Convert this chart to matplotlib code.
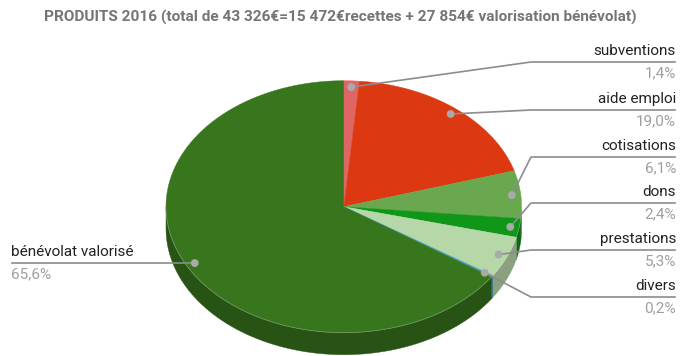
import numpy as np
import matplotlib
matplotlib.use("Agg")
import matplotlib.pyplot as plt
from matplotlib.patches import Polygon, Circle

# data
labels = ["subventions", "aide emploi", "cotisations", "dons", "prestations", "divers", "bénévolat valorisé"]
values = [1.4, 19.0, 6.1, 2.4, 5.3, 0.2, 65.6]
pct_text = ["1,4%", "19,0%", "6,1%", "2,4%", "5,3%", "0,2%", "65,6%"]
colors = ["#e06666", "#dc3912", "#6aa84f", "#109618", "#b6d7a8", "#3fa0c8", "#38761d"]
title = "PRODUITS 2016 (total de 43 326€=15 472€recettes + 27 854€ valorisation bénévolat)"

plt.rcParams['font.family'] = ['Roboto', 'DejaVu Sans']

W, H = 681, 356
fig = plt.figure(figsize=(W / 100, H / 100), dpi=100)
ax = fig.add_axes([0, 0, 1, 1])
ax.set_xlim(0, W)
ax.set_ylim(H, 0)
ax.axis("off")

# pie geometry (pixels)
cx, cy = 343.8, 206.7
rx, ry = 177.8, 126.0
depth = 22


def pt(theta, f=1.0):
    # theta in degrees, clockwise from 12 o'clock
    t = np.radians(theta)
    return cx + f * rx * np.sin(t), cy - f * ry * np.cos(t)


def darker(c, k=0.7):
    r, g, b = matplotlib.colors.to_rgb(c)
    return (r * k, g * k, b * k)


total = sum(values)
bounds = np.concatenate([[0], np.cumsum(values) / total * 360])

# side faces (front half only)
for i, c in enumerate(colors):
    a1, a2 = max(bounds[i], 90), min(bounds[i + 1], 270)
    if a2 <= a1:
        continue
    th = np.linspace(a1, a2, 80)
    xs, ys = pt(th)
    poly = np.column_stack([np.concatenate([xs, xs[::-1]]),
                            np.concatenate([ys, ys[::-1] + depth])])
    sc = darker(c)
    if i == 4:
        sc = "#8aa07f"
    ax.add_patch(Polygon(poly, closed=True, fc=sc, ec=sc, lw=0.3))

# top face
for i, c in enumerate(colors):
    th = np.linspace(bounds[i], bounds[i + 1], max(3, int(values[i] * 4)))
    xs, ys = pt(th)
    poly = np.column_stack([np.concatenate([[cx], xs]), np.concatenate([[cy], ys])])
    ax.add_patch(Polygon(poly, closed=True, fc=c, ec=c, lw=0.3))

# rim highlight
th = np.linspace(90, 270, 200)
xs, ys = pt(th)
ax.plot(xs, ys, color="white", lw=0.6, alpha=0.25)

# labels
line_c = "#8c8c8c"
fs = 11
right_x0, right_x1 = 531, 675
line_ys = [62, 110, 157, 203, 250, 297]
for i in range(6):
    mid = (bounds[i] + bounds[i + 1]) / 2
    dx, dy = pt(mid, 0.95)
    ly = line_ys[i]
    ax.plot([dx, right_x0, right_x1], [dy, ly, ly], color=line_c, lw=1.2, zorder=3)
    ax.add_patch(Circle((dx, dy), 3.2, color="#aaaaaa", zorder=4))
    ax.text(right_x1 + 1, ly - 4, labels[i], ha="right", va="bottom", fontsize=fs, color="#222222")
    ax.text(right_x1 + 1, ly + 4, pct_text[i], ha="right", va="top", fontsize=fs, color="#9e9e9e")

mid = (bounds[6] + bounds[7]) / 2
dx, dy = pt(mid, 0.95)
ax.plot([12, dx], [dy, dy], color=line_c, lw=1.2, zorder=3)
ax.add_patch(Circle((dx, dy), 3.2, color="#aaaaaa", zorder=4))
ax.text(11, dy - 4, labels[6], ha="left", va="bottom", fontsize=fs, color="#222222")
ax.text(11, dy + 4, pct_text[6], ha="left", va="top", fontsize=fs, color="#9e9e9e")

ax.text(340, 17, title, ha="center", va="center", fontsize=11.1, fontweight="bold", color="#757575")

fig.savefig("out.png", dpi=100)
